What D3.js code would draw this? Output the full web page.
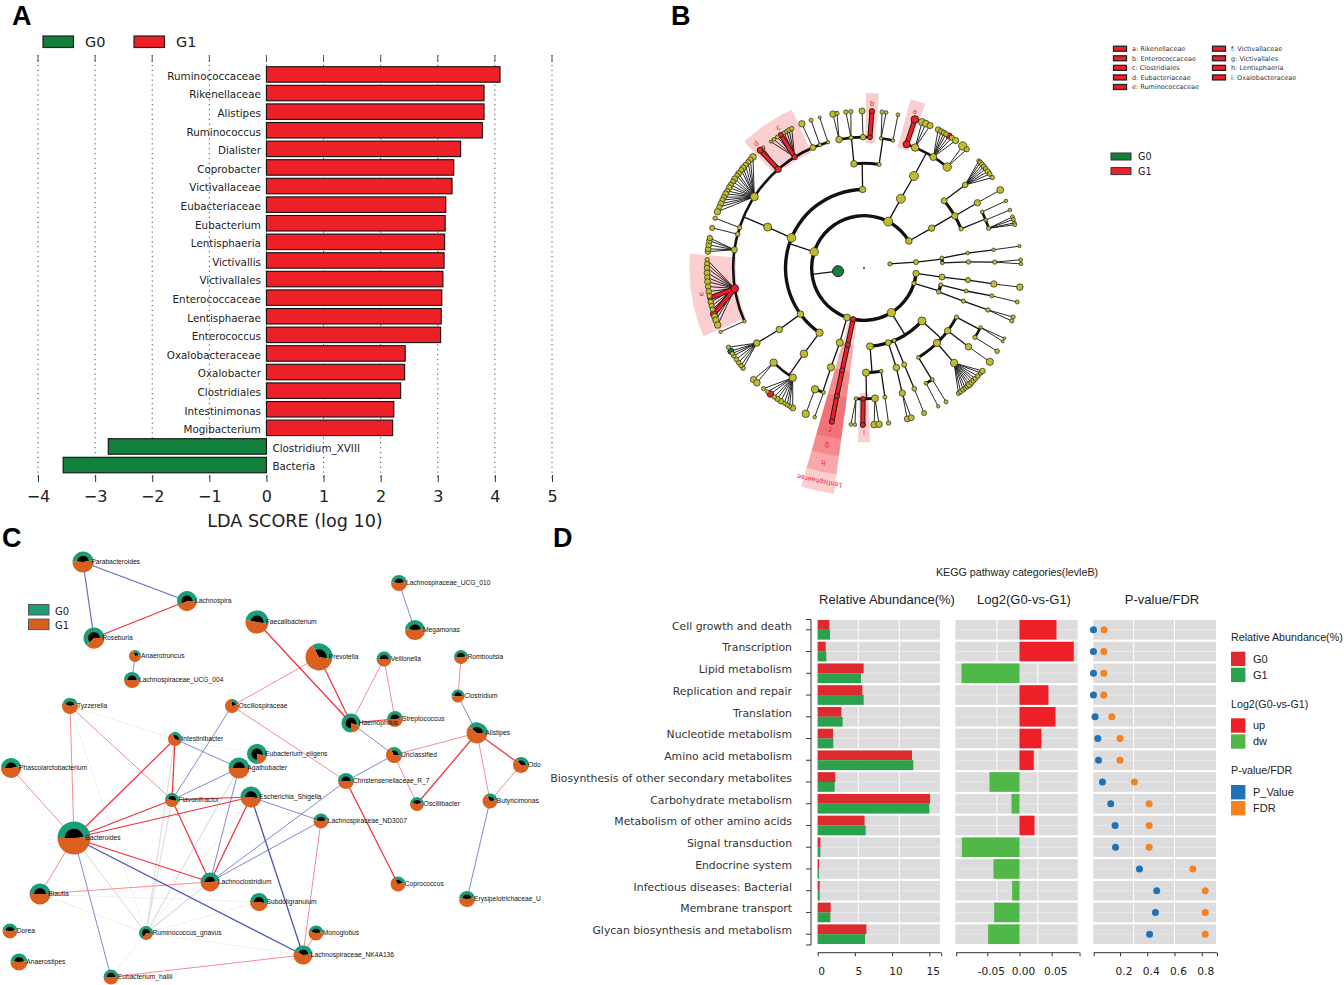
<!DOCTYPE html>
<html><head><meta charset="utf-8">
<script src="https://cdn.jsdelivr.net/npm/d3@7"></script>
<style>html,body{margin:0;background:#fff}svg{display:block}</style></head>
<body><svg id="c" width="1344" height="985"></svg>
<script>
/* ---------- Panel A data ---------- */
const ldaNames=["Ruminococcaceae","Rikenellaceae","Alistipes","Ruminococcus","Dialister","Coprobacter","Victivallaceae","Eubacteriaceae","Eubacterium","Lentisphaeria","Victivallis","Victivallales","Enterococcaceae","Lentisphaerae","Enterococcus","Oxalobacteraceae","Oxalobacter","Clostridiales","Intestinimonas","Mogibacterium","Clostridium_XVIII","Bacteria"];
const ldaValues=[4.09,3.81,3.81,3.78,3.4,3.28,3.25,3.14,3.13,3.12,3.11,3.09,3.07,3.06,3.05,2.43,2.42,2.35,2.23,2.21,-2.77,-3.56];
const ldaTicks=[-4,-3,-2,-1,0,1,2,3,4,5];
const groups=["G0","G1"];

/* ---------- Panel B data: [id,parent,angle(deg cw from north),radius,group] ---------- */
const cladeNodes=[
["root",null,0,1,""],["B","root",263,5.5,"G0"],["Ar","root",81,2.1,""],
["P1","B",288,4.2],["P2","B",387.5,4.5],["P3","B",419,3.3],["P4","B",107,2.3],["P8","B",96,3.2],["P5","B",148.5,4.2],["P6","B",192,2.6,"G1"],["P7","B",199,3.4],
["A1","Ar",83.5,2.5],["A2","A1",82.7,2],["A3","A1",86.3,1.8],["A4","A2",81.8,1.8],["A5","A3",86.7,2.2],["A6","A4",82,1.8],["A7","A5",87.4,2.2],["A8","A6",82,1.6],["A9","A7",87,1.8],["A10","A7",88.5,1.8],
["C1","P8",96.6,3],["C2","C1",96.6,2.6],["C3","C2",97,3.2],["C4","C3",97,3.3],
["D1","P4",102.4,2],["D2","P4",107.7,2.3],["D3","D1",102.7,2],["D4","D3",102.3,2],["D5","D4",102.5,2],["D6","D2",108.4,2.1],["D7","D6",108.7,2.2],["D8","D7",108.2,2.1],["D9","D7",109.7,2.1],
["E1","P3",59.5,3.2],["E2","E1",60.2,3.2],["E3","E1",50,3],["E4","E1",68,2.2],["E5","E3",50.6,2.8],["E6","E2",60.1,3.2],["E7","E6",60.2,3.4],["E8","E4",64.6,1.8],["E9","E4",68.5,1.8],["E10","E4",72.3,2.2],["E11","E8",64.7,1.8],["E12","E9",68.3,1.8],
["F1","P2",28,4.5],["F2","F1",28.5,4.5],["F3","F2",19,3.5,"G1"],["F4","F2",23,3.8],["F5","F2",32,3.5],["F6","F2",39.5,4.2],["F7","F3",18.9,3.8,"G1"],["F8","F5",32.8,3,"G1"],
["G1","P1",214.5,3.7],["G2","P1",234,3.3],["G3","P1",292.6,4.3],["G4","P1",359,3.2],["G5","G4",354.5,3.3],["G6","G4",368.3,2.1],
["H1","G5",349,3.3],["H2","G5",354.3,2.2],["H3","G5",359.6,2.8],["H4","G5",362.6,2.4,"G1"],["H7","H3",359.3,3],["H8","H4",362.9,2.6,"G1"],["H5","G6",367.5,1.8],["H6","G6",372.8,1.8],["H9","H6",372.5,1.9],
["I0","G3",293,4],["J0","I0",246,1.8],["J1","I0",261,3.8,"G1"],["J2","I0",278,3],["J3","I0",285,2.3],["J4","I0",288,2.2],["J5","I0",303,4],["J6","I0",319,3.2,"G1"],["J7","I0",328,2.6,"G1"],["J8","I0",337,3],["J9","I0",340.3,1.9],["J10","I0",344,1.7],
["J0a","J0",246,1.7],["J1a","J1",259,2.3,"G1"],["J1b","J1",253,3.4,"G1"],["J3a","J3",284.8,2.6],["J4a","J4",288.5,2.2],["J6a","J6",320,1.8],["J6b","J6",318.6,3,"G1"],["J7a","J7",328,2.5,"G1"],["J8a","J8",336.7,3.2],["J9a","J9",340.3,2],["J10a","J10",343.6,1.5],
["K1","G1",215,3.8],["K2","K1",223.7,3.7],["K3","K1",213,3.7],["K4","G2",234,3.3],["K5","K4",235,3.3],["K3r","K3",216.6,3.2,"G1"],["K5g","K5",238,3,"G0"],
["L1","P7",198,3.6],["L2","L1",198.4,3.6],["L3","L2",202,3.7],["L4","L2",198,1.9],["L5","L3",201.8,3.7],["L6","L4",198.3,1.8],
["M1","P6",192,2.6,"G1"],["M2","M1",192,2.5,"G1"],["M3","M2",192,2.5,"G1"],["M4","M3",191.8,2.6,"G1"],
["N1","P5",175.6,3.5],["N2","P5",162,3],["N3","P5",157.4,2],["N4","P5",132.4,4],
["O1","N1",178.9,3.6],["O2","N1",170.6,1.9],["Q1","O1",183.5,1.9],["Q2","O1",180.4,2.3,"G1"],["Q3","O1",175.2,3.5],["Q2a","Q2",180.4,2.5,"G1"],
["Q4","O2",170.8,2],["Q4a","Q4",171,2.2],["O3","N2",162,3.3],["Q5","O3",163,3.2],["O4","N3",157.4,2.6],["Q6","O4",157.4,2.4],["Q6a","Q6",157.5,2.5],
["O5","N4",148.7,1.9],["O6","N4",135.8,3.7],["O7","N4",126.9,3.3],["O8","N4",118,2.2],["Q7","O5",151.7,1.9],["Q8","O5",148.5,1.9],["Q7a","Q7",151.8,1.7],["Q8a","Q8",148.5,2],["Q9","O6",136.5,3.7],["Q10","O7",127,3.3],["Q10a","Q10",126.7,3.6],["Q11","O8",122,2.2],["Q12","O8",117,1.7],["Q11a","Q11",122,2.3]
];
/* unmarked leaves of fans: parent -> [angle,radius] */
const cladeLeaves={
E5:[[47,2.1],[47.8,2.4],[48.8,2.5],[49.8,2.6],[50.8,2.4],[52,2.6],[53.2,2.4],[54.8,2.2]],
E10:[[71,2],[72,2],[73.3,1.9],[74,1.9]],
F4:[[21.7,3.6],[23.2,3.4],[24.9,3.1]],
F5:[[28.2,2.9],[29.5,2.7],[30.6,2.8],[31.5,2.4],[34,2.6],[35.7,3.2]],
F6:[[39,4.2],[40.9,2.6]],
H1:[[348.6,3.2],[350.1,2.1]],H2:[[353.4,2.2],[355.2,2.1]],H5:[[366.6,2.1],[368.1,1.8]],
J1:[[273,2.2],[271.5,2.6],[270,2.8],[268.2,3],[266.5,2.8],[265,3],[263.2,2.8],[261.4,2.9],[259.8,2.6],[257.5,2.8],[256,2.7],[254.7,2.4],[252,3],[250.6,3.2],[248.7,3.3]],
J2:[[276,2.8],[277,2.9],[278.5,2.9],[280,2.8],[281,2.7]],
J5:[[315,3.4],[313.6,2.8],[312.4,2.6],[311,2.7],[309.6,3],[308.6,2.6],[307,2.9],[306,2.5],[304.6,3],[303.4,2.6],[302,2.7],[300.8,2.9],[299.4,2.5],[298.2,2.9],[296.8,2.7],[295.6,2.7],[294.2,2.9],[292.8,2.6],[291,3.2]],
J7:[[323.6,1.5],[325,1.9],[326.5,2],[329.5,2],[330.5,2.1],[331.5,2.3],[332.6,2.2]],
K2:[[224.7,3.2],[223,3.3]],
K3:[[207,3],[208.3,2.2],[209.3,2.3],[210.5,2],[212,2.8],[213.5,2.6],[214.8,2.2],[218,1.9],[219.8,2.1]],
K5:[[230.4,2.4],[231.6,2.3],[233,2.4],[234.4,2.3],[236,2.3],[237,2.1],[239.7,2.2]],
Q1:[[184.8,1.8],[183.3,1.8]],Q3:[[176.3,3.3],[174.5,3.3]],Q5:[[164,3],[162.5,3]],
Q9:[[143,2.2],[142,2.3],[140.8,2.5],[139.8,2.4],[138.7,2.8],[137.8,3.2],[136.8,2.6],[135.8,2.6],[134.8,2.4],[133.5,2.4],[132,2.3],[131,2.8]],
Q12:[[116.6,1.4],[117.9,1.4]]
};
/* [label,start,end,inner level,outer level,label level] */
const cladeWedges=[
["Lentisphaerae",187.6,196,2,8.7,8.33],["h",187.6,196,3,7.95,7.6],["g",187.6,196,4,7.26,6.95],["f",187.6,196,5,6.6,6.3],
["a",15.5,20.5,4.78,6.69,6.3],["b",0.7,4.9,4.78,6.69,6.3],["c",321.6,335.5,4.85,6.65,6.3],["d",316.5,321.6,4.95,6.65,6.3],["e",247,274.7,4.9,6.67,6.3],["i",178,182,4.78,6.66,6.3]
];
const cladeLegendA=["a: Rikenellaceae","b: Enterococcaceae","c: Clostridiales","d: Eubacteriaceae","e: Ruminococcaceae"];
const cladeLegendB=["f: Victivallaceae","g: Victivallales","h: Lentisphaeria","i: Oxalobacteraceae"];

/* ---------- Panel C data: [name,x,y,radius,G0 sector start,G0 sector end] ---------- */
const netNodes=[
["Parabacteroides",83,562,10.5,-85,80],["Lachnospira",187,601,10,-115,90],["Roseburia",94,638,10.5,-135,90],["Anaerotruncus",135,656,6,-20,80],["Lachnospiraceae_UCG_004",132,680,8,-90,90],["Tyzzerella",70,706,8,-70,75],["Faecalibacterium",257,622,11.5,-80,100],["Oscillospiraceae",232,706,7,-10,75],["Intestinibacter",175,739,7,-30,110],["Eubacterium_eligens",257,754,10,-180,100],["Phascolarctobacterium",11,768,10,-90,80],["Agathobacter",239,768,10.5,-90,90],["Flavonifractor",172,800,7,-80,100],["Escherichia_Shigella",251,797,10.5,-90,100],["Bacteroides",74,838,16.5,-90,85],["Lachnoclostridium",210,882,9.5,-90,85],["Blautia",40,894,10.5,-90,90],["Subdoligranulum",259,902,9,-90,100],["Ruminococcus_gnavus",146,933,7,-150,100],["Dorea",10,931,7.5,-85,85],["Anaerostipes",19,962,8.5,-85,85],["Eubacterium_hallii",111,977,7.5,-90,90],["Lachnospiraceae_UCG_010",399,583,8,-85,85],["Megamonas",415,630,10,-85,85],["Prevotella",319,657,13.5,-30,100],["Veillonella",384,659,7.5,-90,100],["Romboutsia",461,657,7,-90,85],["Clostridium",458,696,6.5,-95,90],["Haemophilus",351,723,9.5,-180,110],["Streptococcus",395,719,8,-90,85],["Alistipes",477,733,10.5,-50,90],["Unclassified",394,755,8,-30,90],["Odo",521,765,8,-40,90],["Christensenellaceae_R_7",346,781,8,-90,90],["Oscillibacter",417,804,7,-80,80],["Butyricimonas",490,801,7.5,-30,85],["Lachnospiraceae_ND3007",321,821,7.5,-85,85],["Coprococcus",398,884,7.5,-30,80],["Erysipelotrichaceae_U",467,899,8,-85,85],["Monoglobus",316,933,7.5,-80,85],["Lachnospiraceae_NK4A136",303,955,9.5,-60,85]
];
/* [a,b,kind]: r strong positive, p weak positive, b strong negative, l weak negative, g weak neutral, h faint neutral */
const netEdges=[
["Parabacteroides","Lachnospira","l2"],["Parabacteroides","Roseburia","l2"],["Lachnospira","Roseburia","r"],["Anaerotruncus","Lachnospiraceae_UCG_004","l"],["Lachnospiraceae_UCG_010","Megamonas","l"],
["Faecalibacterium","Haemophilus","r"],["Prevotella","Haemophilus","r"],["Prevotella","Oscillospiraceae","p"],["Veillonella","Haemophilus","p"],["Veillonella","Streptococcus","p"],["Haemophilus","Streptococcus","r"],["Haemophilus","Unclassified","l"],["Romboutsia","Clostridium","p"],["Clostridium","Alistipes","l"],["Alistipes","Unclassified","p"],["Alistipes","Odo","r"],["Alistipes","Oscillibacter","r"],["Alistipes","Butyricimonas","p"],["Odo","Butyricimonas","p"],["Unclassified","Oscillibacter","p"],["Unclassified","Christensenellaceae_R_7","l"],["Oscillospiraceae","Christensenellaceae_R_7","p"],["Christensenellaceae_R_7","Coprococcus","r"],["Butyricimonas","Erysipelotrichaceae_U","l"],["Christensenellaceae_R_7","Lachnoclostridium","l"],["Lachnospiraceae_ND3007","Lachnoclostridium","l"],["Lachnospiraceae_ND3007","Escherichia_Shigella","l"],["Lachnospiraceae_ND3007","Lachnospiraceae_NK4A136","p"],["Monoglobus","Lachnospiraceae_NK4A136","p"],["Escherichia_Shigella","Lachnospiraceae_NK4A136","b"],["Bacteroides","Lachnospiraceae_NK4A136","b"],["Eubacterium_hallii","Lachnospiraceae_NK4A136","p"],["Ruminococcus_gnavus","Lachnospiraceae_NK4A136","h"],
["Tyzzerella","Bacteroides","p"],["Tyzzerella","Flavonifractor","p"],["Tyzzerella","Intestinibacter","h"],["Tyzzerella","Ruminococcus_gnavus","h"],["Phascolarctobacterium","Bacteroides","p"],["Intestinibacter","Bacteroides","r"],["Intestinibacter","Flavonifractor","r"],["Intestinibacter","Agathobacter","l"],["Intestinibacter","Eubacterium_eligens","h"],["Oscillospiraceae","Flavonifractor","l"],["Flavonifractor","Agathobacter","l"],["Flavonifractor","Escherichia_Shigella","r"],["Flavonifractor","Bacteroides","r"],["Flavonifractor","Lachnoclostridium","r"],["Escherichia_Shigella","Bacteroides","r"],["Escherichia_Shigella","Lachnoclostridium","r"],["Agathobacter","Lachnoclostridium","l"],["Bacteroides","Lachnoclostridium","r"],["Bacteroides","Blautia","p"],["Blautia","Lachnoclostridium","p"],["Bacteroides","Eubacterium_hallii","l"],["Bacteroides","Ruminococcus_gnavus","g"],["Blautia","Ruminococcus_gnavus","h"],["Blautia","Subdoligranulum","h"],["Lachnoclostridium","Ruminococcus_gnavus","g"],["Agathobacter","Ruminococcus_gnavus","g"],["Escherichia_Shigella","Ruminococcus_gnavus","h"],["Intestinibacter","Ruminococcus_gnavus","g"],["Flavonifractor","Ruminococcus_gnavus","g"],["Subdoligranulum","Ruminococcus_gnavus","h"],["Ruminococcus_gnavus","Eubacterium_hallii","h"]
];

/* ---------- Panel D data ---------- */
const pathways=["Cell growth and death","Transcription","Lipid metabolism","Replication and repair","Translation","Nucleotide metabolism","Amino acid metabolism","Biosynthesis of other secondary metabolites","Carbohydrate metabolism","Metabolism of other amino acids","Signal transduction","Endocrine system","Infectious diseases: Bacterial","Membrane transport","Glycan biosynthesis and metabolism"];
const abundG0=[1.57,1.07,6.18,6.0,3.18,2.06,12.67,2.37,15.1,6.3,0.36,0.18,0.27,1.75,6.54];
const abundG1=[1.66,1.16,5.82,6.18,3.36,2.1,12.85,2.28,15.0,6.45,0.36,0.18,0.27,1.7,6.36];
const log2fc=[0.0574,0.0843,-0.09,0.045,0.0559,0.034,0.0222,-0.0466,-0.0124,0.0233,-0.0895,-0.0404,-0.0114,-0.0393,-0.0487];
const pValue=[0.005,0.005,0.005,0.005,0.017,0.037,0.042,0.071,0.132,0.164,0.167,0.343,0.47,0.46,0.417];
const fdrValue=[0.083,0.081,0.081,0.081,0.14,0.2,0.2,0.306,0.414,0.414,0.414,0.735,0.826,0.826,0.826];

/* ---------- shared ---------- */
const svg=d3.select("#c");
const SANS="'Liberation Sans',Arial,sans-serif", DJ="'DejaVu Sans',sans-serif";
const RED="#ee2027", DGREEN="#12803c", OLIVE="#bfbd2c";
const txt=(g,x,y,s,size,font,anchor="start",fill="#222")=>g.append("text").attr("x",x).attr("y",y).attr("font-size",size).attr("font-family",font).attr("text-anchor",anchor).attr("fill",fill).text(s);
[["A",12,25],["B",671,25],["C",2,547],["D",553,547]].forEach(d=>txt(svg,d[1],d[2],d[0],27,SANS,"start","#000").attr("font-weight","bold"));

/* ---------- Panel A ---------- */
{
 const g=svg.append("g");
 const x=d3.scaleLinear().domain([-4,5]).range([38,552]);
 const y=d3.scaleBand().domain(ldaNames).range([66.7,472.8]).paddingInner(0.167);
 g.selectAll("line.grid").data(ldaTicks).join("line").attr("class","grid").attr("x1",x).attr("x2",x).attr("y1",55).attr("y2",481).attr("stroke","#555").attr("stroke-width",1).attr("stroke-dasharray","1.3 3.6");
 g.selectAll("line.top").data(ldaTicks).join("line").attr("class","top").attr("x1",x).attr("x2",x).attr("y1",55).attr("y2",62).attr("stroke","#555").attr("stroke-width",1);
 g.selectAll("rect").data(ldaNames).join("rect")
  .attr("x",(d,i)=>x(Math.min(0,ldaValues[i]))).attr("width",(d,i)=>Math.abs(x(ldaValues[i])-x(0)))
  .attr("y",d=>y(d)).attr("height",y.bandwidth()).attr("fill",(d,i)=>ldaValues[i]<0?DGREEN:RED).attr("stroke","#111").attr("stroke-width",1.1);
 g.selectAll("text.n").data(ldaNames).join("text").attr("class","n").attr("font-family",DJ).attr("font-size",10.35).attr("fill","#222")
  .attr("x",(d,i)=>ldaValues[i]<0?x(0)+6:x(0)-5.5).attr("text-anchor",(d,i)=>ldaValues[i]<0?"start":"end")
  .attr("y",d=>y(d)+y.bandwidth()/2+5.3).text(d=>d);
 const ax=g.append("g").attr("transform","translate(0,475)").call(d3.axisBottom(x).tickValues(ldaTicks).tickSize(7).tickPadding(9).tickFormat(d=>d<0?"\u2212"+(-d):d));
 ax.select(".domain").remove();
 ax.selectAll("text").attr("font-size",16).attr("font-family",DJ).attr("fill","#222");
 ax.selectAll("line").attr("stroke","#333");
 txt(g,295,527,"LDA SCORE (log 10)",17.6,DJ,"middle");
 const lx=d3.scalePoint().domain(groups).range([43,134]);
 groups.forEach((k,i)=>{
  g.append("rect").attr("x",lx(k)).attr("y",36).attr("width",30.5).attr("height",11.5).attr("fill",i?RED:DGREEN).attr("stroke","#222").attr("stroke-width",1.2);
  txt(g,lx(k)+42,47,k,14.5,DJ);
 });
}

/* ---------- Panel B ---------- */
{
 const g=svg.append("g").attr("transform","translate(864,268)");
 const ring=d3.scaleLinear().domain([0,6]).range([0,157]);
 const rad=d3.scaleLinear().domain([0,360]).range([0,2*Math.PI]);
 const all=cladeNodes.map(d=>({id:d[0],parent:d[1],ang:d[2],r:d[3],grp:d[4]||""}));
 const byId=new Map(all.map(n=>[n.id,n]));
 Object.entries(cladeLeaves).forEach(([p,ls])=>ls.forEach((l,i)=>{const n={id:p+"_"+i,parent:p,ang:l[0],r:l[1],grp:""};all.push(n);byId.set(n.id,n);}));
 all.forEach(n=>{n.children=[];});
 all.forEach(n=>{if(n.parent)byId.get(n.parent).children.push(n);});
 const setLevel=(n,l)=>{n.level=l;n.children.forEach(c=>setLevel(c,l+1));};
 setLevel(byId.get("root"),0);
 const pt=(lev,a)=>[ring(lev)*Math.sin(rad(a)),-ring(lev)*Math.cos(rad(a))];
 /* wedges */
 const wg=g.append("g");
 wg.selectAll("path").data(cladeWedges).join("path").attr("fill",RED).attr("fill-opacity",.22)
  .attr("d",d=>d3.arc()({innerRadius:ring(d[3]),outerRadius:ring(d[4]),startAngle:rad(d[1]),endAngle:rad(d[2])}));
 wg.selectAll("text").data(cladeWedges).join("text").attr("fill",RED).attr("font-family",DJ).attr("font-size",d=>d[0].length>1?6.4:7)
  .attr("text-anchor","middle").attr("dy",2.5)
  .attr("transform",d=>{const a=(d[1]+d[2])/2,p=pt(d[5],a);return `translate(${p[0]},${p[1]}) rotate(${a})`;}).text(d=>d[0]);
 const arcG=g.append("g");
 const lineG=g.append("g").attr("stroke","#111").attr("fill","none");
 const arcW=d3.scaleOrdinal().domain([2,3,4,5,6]).range([3.4,3.4,3,2.6,1.4]);
 all.forEach(p=>{
  if(!p.children.length||p.id==="root")return;
  const from=pt(p.level,p.ang), kids=p.children;
  const lev=p.level+1;
  if(lev===6||kids.length===1){
   kids.forEach(k=>{const q=pt(k.level,k.ang);
    lineG.append("line").attr("x1",from[0]).attr("y1",from[1]).attr("x2",q[0]).attr("y2",q[1]).attr("stroke-width",lev===6?0.9:1.3);});
  }else{
   const mean=d3.mean(kids,k=>k.ang); let pa=p.ang;
   while(pa-mean>180)pa-=360; while(mean-pa>180)pa+=360;
   const lo=Math.min(pa,d3.min(kids,k=>k.ang)),hi=Math.max(pa,d3.max(kids,k=>k.ang));
   const w=arcW(lev),r=ring(lev);
   arcG.append("path").attr("fill","#111").attr("d",d3.arc()({innerRadius:r-w/2,outerRadius:r+w/2,startAngle:rad(lo),endAngle:rad(hi)}));
   const q=pt(lev,pa);
   lineG.append("line").attr("x1",from[0]).attr("y1",from[1]).attr("x2",q[0]).attr("y2",q[1]).attr("stroke-width",1.3);
  }
 });
 /* red branches */
 const redLinks=all.filter(n=>n.grp==="G1"&&n.parent&&byId.get(n.parent).grp==="G1");
 const redG=g.append("g");
 const ends=n=>{const p=byId.get(n.parent),a=pt(p.level,p.ang),b=pt(n.level,n.ang);return [a,b];};
 [["#111",5],[RED,3.2]].forEach(s=>redG.append("g").selectAll("line").data(redLinks).join("line")
  .attr("x1",d=>ends(d)[0][0]).attr("y1",d=>ends(d)[0][1]).attr("x2",d=>ends(d)[1][0]).attr("y2",d=>ends(d)[1][1]).attr("stroke",s[0]).attr("stroke-width",s[1]));
 g.append("g").selectAll("circle").data(all).join("circle")
  .attr("cx",d=>pt(d.level,d.ang)[0]).attr("cy",d=>pt(d.level,d.ang)[1]).attr("r",d=>d.r)
  .attr("fill",d=>d.id==="root"?"#333":d.grp==="G1"?RED:d.grp==="G0"?DGREEN:OLIVE)
  .attr("stroke",d=>d.id==="root"?"none":"#222").attr("stroke-width",d=>d.grp?1:0.7);
 /* legends */
 const ly=d3.scalePoint().domain([0,1,2,3,4]).range([48.7,87]);
 [[cladeLegendA,1113],[cladeLegendB,1212]].forEach(([list,x0])=>list.forEach((s,i)=>{
  svg.append("rect").attr("x",x0+.5).attr("y",ly(i)-2.5).attr("width",13).attr("height",5).attr("fill",RED).attr("stroke","#222").attr("stroke-width",1.3);
  txt(svg,x0+19,ly(i)+2.4,s,6.5,DJ,"start","#333");
 }));
 groups.forEach((k,i)=>{
  svg.append("rect").attr("x",1111).attr("y",153+i*14.6).attr("width",20).attr("height",7).attr("fill",i?RED:DGREEN).attr("stroke","#333").attr("stroke-width",1);
  txt(svg,1138,160.2+i*14.6,k,9.6,DJ,"start","#222");
 });
}

/* ---------- Panel C ---------- */
{
 const g=svg.append("g");
 const x=d3.scaleLinear().domain([0,540]).range([0,540]), y=d3.scaleLinear().domain([548,988]).range([548,988]);
 const idx=new Map(netNodes.map(n=>[n[0],n]));
 const es={r:["#f2303e",1.25],p:["#f98a93",1],b:["#4a55b3",1.3],l2:["#6570c4",1.2],l:["#8189d0",1],g:["#dedede",1.2],h:["#efefef",1]};
 const order=["h","g","l","p","l2","b","r"];
 const sorted=netEdges.slice().sort((a,b)=>order.indexOf(a[2])-order.indexOf(b[2]));
 g.selectAll("line").data(sorted).join("line").attr("x1",d=>x(idx.get(d[0])[1])).attr("y1",d=>y(idx.get(d[0])[2])).attr("x2",d=>x(idx.get(d[1])[1])).attr("y2",d=>y(idx.get(d[1])[2]))
  .attr("stroke",d=>es[d[2]][0]).attr("stroke-width",d=>es[d[2]][1]);
 const rad=d=>d*Math.PI/180, arc=d3.arc();
 const ng=g.selectAll("g.n").data(netNodes).join("g").attr("class","n").attr("transform",d=>`translate(${x(d[1])},${y(d[2])})`);
 ng.append("path").attr("fill","#1b9e77").attr("d",d=>arc({innerRadius:0,outerRadius:d[3],startAngle:rad(d[4]),endAngle:rad(d[5])}));
 ng.append("path").attr("fill","#000").attr("d",d=>arc({innerRadius:0,outerRadius:d[3]*.56,startAngle:rad(d[4]),endAngle:rad(d[5])}));
 ng.append("path").attr("fill","#d9601e").attr("d",d=>arc({innerRadius:0,outerRadius:d[3],startAngle:rad(d[5]),endAngle:rad(d[4]+360)}));
 g.selectAll("text.n").data(netNodes).join("text").attr("class","n").attr("font-family",SANS).attr("font-size",6.7).attr("fill","#111")
  .attr("x",d=>x(d[1])+d[3]*.5+3).attr("y",d=>y(d[2])+2.4).text(d=>d[0]);
 groups.forEach((k,i)=>{
  g.append("rect").attr("x",28.5).attr("y",604.5+i*14.6).attr("width",20.5).attr("height",10.5).attr("fill",i?"#d9601e":"#1b9e77").attr("stroke","#555").attr("stroke-width",1);
  txt(g,55,614.5+i*14.6,k,10,DJ,"start","#222");
 });
}

/* ---------- Panel D ---------- */
{
 const g=svg.append("g");
 const y=d3.scaleBand().domain(pathways).range([620,944]).paddingInner(.098);
 const bw=y.bandwidth();
 const hy=f=>v=>f(v).replace("\u2212","-");
 const panels=[
  {x0:817.3,x1:940,s:d3.scaleLinear().domain([0,15]).range([817.7,929.3]),grid:[5.46,10.97],ticks:[0,5,10,15,16.6],lab:[0,5,10,15],fmt:d3.format("d")},
  {x0:955.3,x1:1077.7,s:d3.scaleLinear().domain([-0.05,0.05]).range([987.3,1051.7]),grid:[-0.035,0.0285],ticks:[-0.0983,-0.05,0,0.05,0.0932],lab:[-0.05,0,0.05],fmt:hy(d3.format(".2f"))},
  {x0:1093.3,x1:1216,s:d3.scaleLinear().domain([0.2,0.8]).range([1120,1201.7]),grid:[0.3,0.6],ticks:[0.007,0.2,0.4,0.6,0.8,0.912],lab:[0.2,0.4,0.6,0.8],fmt:d3.format(".1f")}
 ];
 panels.forEach((p,pi)=>{
  const pg=g.append("g");
  pg.selectAll("rect.bg").data(pathways).join("rect").attr("x",p.x0).attr("width",p.x1-p.x0).attr("y",d=>y(d)).attr("height",bw).attr("fill","#dcdcdc");
  pathways.forEach(n=>{
   p.grid.forEach(v=>pg.append("line").attr("x1",p.s(v)).attr("x2",p.s(v)).attr("y1",y(n)).attr("y2",y(n)+bw).attr("stroke","#fff").attr("stroke-width",1));
   pg.append("line").attr("x1",p.x0).attr("x2",p.x1).attr("y1",y(n)+bw/2).attr("y2",y(n)+bw/2).attr("stroke","#f2f2f2").attr("stroke-width",.6);
  });
  const ax=pg.append("g").attr("transform","translate(0,952.7)").call(d3.axisBottom(p.s).tickValues(p.ticks).tickSize(3.6).tickPadding(11.5).tickFormat(v=>p.lab.includes(v)?p.fmt(v):""));
  ax.select(".domain").attr("d",`M${p.s(p.ticks[0])},0H${p.s(p.ticks[p.ticks.length-1])}`).attr("stroke","#333");
  ax.selectAll("line").attr("stroke","#333");
  ax.selectAll("text").attr("font-family",DJ).attr("font-size",10.6).attr("fill","#222").attr("dx",3.5);
 });
 const [s1,s2,s3]=panels.map(p=>p.s);
 g.selectAll("rect.a0").data(pathways).join("rect").attr("class","a0").attr("x",s1(0)).attr("y",d=>y(d)).attr("height",bw/2).attr("width",(d,i)=>s1(abundG0[i])-s1(0)).attr("fill","#dd2a2e");
 g.selectAll("rect.a1").data(pathways).join("rect").attr("class","a1").attr("x",s1(0)).attr("y",d=>y(d)+bw/2).attr("height",bw/2).attr("width",(d,i)=>s1(abundG1[i])-s1(0)).attr("fill","#2aa24c");
 g.selectAll("rect.fc").data(pathways).join("rect").attr("class","fc").attr("x",(d,i)=>Math.min(s2(0),s2(log2fc[i]))).attr("y",d=>y(d)).attr("height",bw).attr("width",(d,i)=>Math.abs(s2(log2fc[i])-s2(0))).attr("fill",(d,i)=>log2fc[i]>0?RED:"#50b848");
 g.selectAll("circle.p").data(pathways).join("circle").attr("class","p").attr("cx",(d,i)=>s3(pValue[i])).attr("cy",d=>y(d)+bw/2).attr("r",3.5).attr("fill","#1f72b5");
 g.selectAll("circle.f").data(pathways).join("circle").attr("class","f").attr("cx",(d,i)=>s3(fdrValue[i])).attr("cy",d=>y(d)+bw/2).attr("r",3.5).attr("fill","#f58220");
 /* y axis */
 g.append("line").attr("x1",811).attr("x2",811).attr("y1",619.5).attr("y2",945).attr("stroke","#333");
 pathways.forEach(n=>g.append("line").attr("x1",806).attr("x2",811).attr("y1",y(n)+bw/2).attr("y2",y(n)+bw/2).attr("stroke","#333"));
 [619.5,945].forEach(v=>g.append("line").attr("x1",806).attr("x2",811).attr("y1",v).attr("y2",v).attr("stroke","#333"));
 g.selectAll("text.r").data(pathways).join("text").attr("class","r").attr("x",792).attr("y",d=>y(d)+bw/2-0.2).attr("text-anchor","end").attr("font-family",DJ).attr("font-size",10.85).attr("fill","#333").text(d=>d);
 txt(g,1017,576,"KEGG pathway categories(levleB)",10.7,SANS,"middle","#222");
 txt(g,887,604,"Relative Abundance(%)",13,SANS,"middle","#222");
 txt(g,1024,604,"Log2(G0-vs-G1)",13,SANS,"middle","#222");
 txt(g,1162,604,"P-value/FDR",13,SANS,"middle","#222");
 const leg=[["Relative Abundance(%)",640.5],["Log2(G0-vs-G1)",708],["P-value/FDR",774]];
 leg.forEach(l=>txt(g,1231,l[1],l[0],10.7,SANS,"start","#222"));
 [["G0","#dd2a2e",651.7],["G1","#2aa24c",667.7],["up",RED,718.3],["dw","#50b848",734.3],["P_Value","#1f72b5",785],["FDR","#f58220",801]].forEach(s=>{
  g.append("rect").attr("x",1231).attr("y",s[2]).attr("width",14.4).attr("height",14.4).attr("fill",s[1]);
  txt(g,1253,s[2]+11,s[0],11,SANS,"start","#222");
 });
}
</script></body></html>
